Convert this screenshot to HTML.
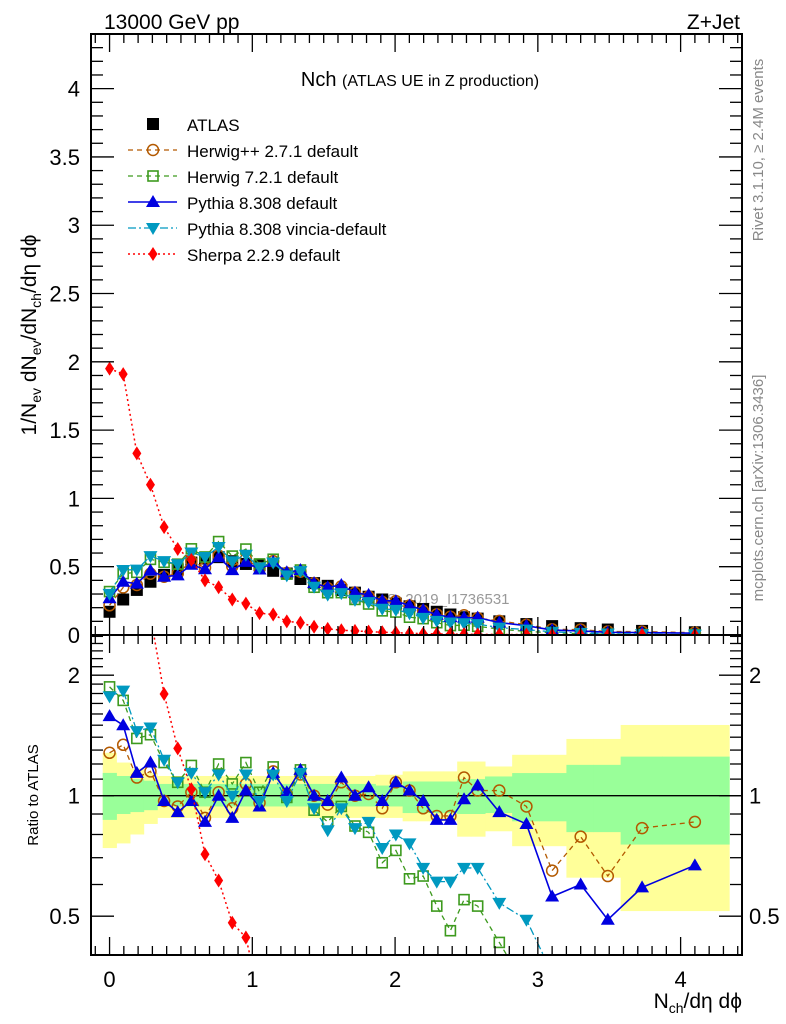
<!DOCTYPE html>
<html><head><meta charset="utf-8"><style>
html,body{margin:0;padding:0;background:#fff;width:786px;height:1024px;overflow:hidden}
svg{display:block;font-family:"Liberation Sans",sans-serif}
</style></head><body>
<div style="position:relative;width:786px;height:1024px;overflow:hidden">
<svg id="c" width="786" height="1024" viewBox="0 0 786 1024" style="position:absolute;left:0;top:0"></svg>
<svg width="786" height="1024" style="position:absolute;left:0;top:0">
<text x="104" y="29" font-size="21">13000 GeV pp</text>
<text x="740" y="29" font-size="21" text-anchor="end">Z+Jet</text>
<text x="420" y="86" font-size="20" text-anchor="middle">Nch <tspan font-size="16">(ATLAS UE in Z production)</tspan></text>
<text transform="translate(36,335) rotate(-90)" font-size="21" text-anchor="middle">1/N<tspan font-size="14" dy="5">ev</tspan><tspan dy="-5"> dN</tspan><tspan font-size="14" dy="5">ev</tspan><tspan dy="-5">/dN</tspan><tspan font-size="14" dy="5">ch</tspan><tspan dy="-5">/dη dϕ</tspan></text>
<text transform="translate(38,795) rotate(-90)" font-size="15" text-anchor="middle">Ratio to ATLAS</text>
<text x="742" y="1008" font-size="21" text-anchor="end">N<tspan font-size="14" dy="5">ch</tspan><tspan dy="-5">/dη dϕ</tspan></text>
<text transform="translate(763,150) rotate(-90)" font-size="15" text-anchor="middle" fill="#888">Rivet 3.1.10, ≥ 2.4M events</text>
<text transform="translate(763,488) rotate(-90)" font-size="15" text-anchor="middle" fill="#888">mcplots.cern.ch [arXiv:1306.3436]</text>
</svg>
</div>
<script>
// ---- data ----
const xCenters=[0,0.0955,0.191,0.2865,0.382,0.4775,0.573,0.6685,0.764,0.8595,0.955,1.0505,1.146,1.2415,1.337,1.4325,1.528,1.6235,1.719,1.8145,1.91,2.0055,2.101,2.1965,2.292,2.3875,2.483,2.5785,2.73,2.92,3.10,3.30,3.49,3.73,4.10];
const xLo=[-0.048,0.048,0.143,0.239,0.334,0.430,0.525,0.621,0.716,0.812,0.907,1.003,1.098,1.194,1.289,1.385,1.480,1.576,1.671,1.767,1.862,1.958,2.053,2.149,2.244,2.340,2.435,2.531,2.63,2.82,3.01,3.20,3.39,3.58,3.87];
const xHi=[0.048,0.143,0.239,0.334,0.430,0.525,0.621,0.716,0.812,0.907,1.003,1.098,1.194,1.289,1.385,1.480,1.576,1.671,1.767,1.862,1.958,2.053,2.149,2.244,2.340,2.435,2.531,2.63,2.82,3.01,3.20,3.39,3.58,3.87,4.34];
const atlas=[0.17,0.26,0.33,0.39,0.44,0.48,0.53,0.56,0.57,0.54,0.52,0.51,0.47,0.45,0.41,0.38,0.36,0.33,0.31,0.28,0.26,0.23,0.21,0.19,0.17,0.15,0.13,0.12,0.10,0.08,0.065,0.05,0.04,0.03,0.02];
const rHerwigpp=[1.28,1.34,1.11,1.15,0.97,0.94,1.02,0.88,1.02,0.93,1.07,0.96,1.15,1.01,1.13,1.0,0.95,1.08,1.0,1.01,0.93,1.08,1.03,0.93,0.89,0.89,1.11,1.03,1.03,0.94,0.65,0.79,0.63,0.83,0.86];
const rHerwig7=[1.87,1.73,1.39,1.42,1.21,1.08,1.19,1.02,1.2,1.07,1.21,1.02,1.18,0.99,1.16,0.92,0.86,0.94,0.84,0.81,0.68,0.73,0.62,0.63,0.53,0.46,0.55,0.53,0.43,0.33,0.25,0.2,0.15,0.12,0.1];
const rPythia=[1.58,1.50,1.14,1.21,0.97,0.91,0.97,0.86,1.0,0.88,1.03,0.94,1.14,1.02,1.16,1.0,0.97,1.11,1.0,1.05,0.97,1.08,1.03,0.97,0.87,0.87,0.98,1.06,0.91,0.85,0.56,0.60,0.49,0.59,0.67];
const rVincia=[1.77,1.83,1.45,1.48,1.23,1.08,1.14,1.02,1.13,1.0,1.13,0.97,1.13,0.97,1.14,0.93,0.82,0.93,0.83,0.86,0.74,0.80,0.76,0.66,0.61,0.61,0.66,0.66,0.54,0.49,0.36,0.3,0.25,0.2,0.15];
const sherpa=[1.95,1.91,1.33,1.10,0.79,0.63,0.55,0.40,0.35,0.26,0.23,0.16,0.15,0.10,0.09,0.06,0.045,0.035,0.03,0.025,0.02,0.017,0.013,0.01,0.008,0.007,0.006,0.005,0.004,0.003,0.002,0.002,0.001,0.001,0.001];
const greenHi=[1.14,1.12,1.10,1.09,1.07,1.07,1.07,1.07,1.07,1.07,1.07,1.07,1.07,1.07,1.07,1.07,1.07,1.07,1.07,1.07,1.06,1.06,1.085,1.085,1.085,1.085,1.10,1.10,1.117,1.139,1.139,1.194,1.194,1.252,1.252];
const greenLo=[0.87,0.90,0.91,0.92,0.94,0.94,0.94,0.94,0.94,0.94,0.94,0.94,0.94,0.94,0.94,0.94,0.94,0.94,0.94,0.94,0.94,0.94,0.905,0.905,0.905,0.905,0.90,0.90,0.905,0.863,0.863,0.811,0.811,0.755,0.755];
const yellowHi=[1.28,1.21,1.17,1.14,1.12,1.12,1.12,1.12,1.12,1.12,1.12,1.12,1.12,1.12,1.12,1.12,1.12,1.12,1.12,1.12,1.128,1.128,1.15,1.15,1.15,1.15,1.217,1.217,1.183,1.265,1.265,1.386,1.386,1.502,1.502];
const yellowLo=[0.74,0.76,0.80,0.85,0.88,0.88,0.88,0.88,0.88,0.88,0.88,0.88,0.88,0.88,0.88,0.88,0.88,0.88,0.88,0.88,0.88,0.88,0.863,0.863,0.863,0.863,0.79,0.79,0.815,0.748,0.748,0.624,0.624,0.515,0.515];
const xTicks=[0,1,2,3,4];
const yTicks=[0,0.5,1,1.5,2,2.5,3,3.5,4];
const yTickLabels=["0","0.5","1","1.5","2","2.5","3","3.5","4"];
const rTicks=[0.5,1,2];
const rTickLabels=["0.5","1","2"];

// ---- geometry ----
const L=91,R=742,T=34,M=635,B=955;
const XMIN=-0.13,XMAX=4.43,YMAX=4.40,RMIN=0.40,RMAX=2.52;
const sx=v=>L+(v-XMIN)/(XMAX-XMIN)*(R-L);
const sy=v=>M-v/YMAX*(M-T);
const sr=v=>B-(Math.log(v)-Math.log(RMIN))/(Math.log(RMAX)-Math.log(RMIN))*(B-M);
const svg=document.getElementById('c');
const NS='http://www.w3.org/2000/svg';
function mk(tag,attrs,parent){const e=document.createElementNS(NS,tag);for(const k in attrs)e.setAttribute(k,attrs[k]);(parent||svg).appendChild(e);return e;}
function txt(s,x,y,size,anchor,fill,parent){const t=mk('text',{x:x,y:y,'font-size':size,'text-anchor':anchor||'start',fill:fill||'#000'},parent);t.textContent=s;return t;}

const defs=mk('defs',{});
const c1=mk('clipPath',{id:'cm'},defs);mk('rect',{x:L,y:T,width:R-L,height:M-T},c1);
const c2=mk('clipPath',{id:'cr'},defs);mk('rect',{x:L,y:M,width:R-L,height:B-M},c2);

const gBand=mk('g',{'clip-path':'url(#cr)'});


for(let i=0;i<xCenters.length;i++){
  const y=mk('rect',{x:sx(xLo[i]),y:sr(yellowHi[i]),width:sx(xHi[i])-sx(xLo[i])+0.5,height:sr(yellowLo[i])-sr(yellowHi[i]),fill:'#ffff99'},gBand);
  
  
}
for(let i=0;i<xCenters.length;i++){
  const g=mk('rect',{x:sx(xLo[i]),y:sr(greenHi[i]),width:sx(xHi[i])-sx(xLo[i])+0.5,height:sr(greenLo[i])-sr(greenHi[i]),fill:'#99ff99'},gBand);
  
  
}
mk('line',{x1:L,x2:R,y1:sr(1),y2:sr(1),stroke:'#000','stroke-width':1.3});

const wm=txt('ATLAS_2019_I1736531',430,604,15,'middle','#999');



function marker(type,x,y,col,g){
  const s=6;
  if(type==='sq')return mk('rect',{x:x-s,y:y-s,width:2*s,height:2*s,fill:col},g);
  if(type==='osq')return mk('rect',{x:x-s+1,y:y-s+1,width:2*s-2,height:2*s-2,fill:'none',stroke:col,'stroke-width':1.6},g);
  if(type==='oc')return mk('circle',{cx:x,cy:y,r:5.5,fill:'none',stroke:col,'stroke-width':1.5},g);
  if(type==='tu')return mk('polygon',{points:`${x},${y-7} ${x-7},${y+5} ${x+7},${y+5}`,fill:col},g);
  if(type==='td')return mk('polygon',{points:`${x},${y+7} ${x-7},${y-5} ${x+7},${y-5}`,fill:col},g);
  if(type==='di')return mk('polygon',{points:`${x},${y-7} ${x-4.5},${y} ${x},${y+7} ${x+4.5},${y}`,fill:col},g);
}
const series=[
 {name:'herwigpp',col:'#b35900',m:'oc',dash:'5,4',w:1.3,ratio:rHerwigpp},
 {name:'herwig7',col:'#3d9a1e',m:'osq',dash:'5,4',w:1.3,ratio:rHerwig7},
 {name:'pythia',col:'#0000e0',m:'tu',dash:'',w:1.6,ratio:rPythia},
 {name:'vincia',col:'#0099c0',m:'td',dash:'8,3,2,3',w:1.3,ratio:rVincia},
 {name:'sherpa',col:'#ff0000',m:'di',dash:'2,3',w:1.5,ratio:null,main:sherpa}
];
function drawSeries(s,panel){
  const g=mk('g',{'clip-path':panel==='main'?'url(#cm)':'url(#cr)'});
  
  
  const vals=xCenters.map((x,i)=>{
    const main=s.main?s.main[i]:s.ratio[i]*atlas[i];
    return panel==='main'?main:main/atlas[i];
  });
  const fy=panel==='main'?(v=>sy(v)):(v=>sr(Math.max(v,0.05)));
  const pts=vals.map((v,i)=>sx(xCenters[i])+','+fy(v));
  const pl=mk('polyline',{points:pts.join(' '),fill:'none',stroke:s.col,'stroke-width':s.w,'stroke-dasharray':s.dash},g);
  
  
  vals.forEach((v,i)=>{
    const p=marker(s.m,sx(xCenters[i]),fy(v),s.col,g);
    
    
  });
}
const ga=mk('g',{'clip-path':'url(#cm)'});


atlas.forEach((v,i)=>{
  const p=marker('sq',sx(xCenters[i]),sy(v),'#000',ga);
  
  
});
series.forEach(s=>{drawSeries(s,'main');drawSeries(s,'ratio');});

mk('rect',{x:L,y:T,width:R-L,height:M-T,fill:'none',stroke:'#000','stroke-width':2});
mk('rect',{x:L,y:M,width:R-L,height:B-M,fill:'none',stroke:'#000','stroke-width':2});

for(let v=-0.1;v<=4.41;v+=0.1){
  const vv=Math.round(v*10)/10;const major=Math.abs(vv-Math.round(vv))<1e-6;
  const x=sx(vv),len=major?18:9;
  [[T,1],[M,-1],[M,1],[B,-1]].forEach(([y0,d])=>mk('line',{x1:x,x2:x,y1:y0,y2:y0+d*len,stroke:'#000','stroke-width':1.3}));
}
xTicks.forEach(v=>{const t=txt(String(v),sx(v),987,22,'middle');});
for(let v=0;v<=4.4;v+=0.1){
  const vv=Math.round(v*10)/10;const major=Math.abs(vv*2-Math.round(vv*2))<1e-6;
  const len=major?23:12,y=sy(vv);
  mk('line',{x1:L,x2:L+len,y1:y,y2:y,stroke:'#000','stroke-width':1.3});
  mk('line',{x1:R,x2:R-len,y1:y,y2:y,stroke:'#000','stroke-width':1.3});
}
yTicks.forEach((v,i)=>{const t=txt(yTickLabels[i],80,sy(v)+8,22,'end');});
[0.4,0.5,0.6,0.7,0.8,0.9,1,1.1,1.2,1.3,1.4,1.5,1.6,1.7,1.8,1.9,2,2.1,2.2,2.3,2.4,2.5].forEach(v=>{
  const major=(v===0.5||v===1||v===2);const len=major?23:12,y=sr(v);
  mk('line',{x1:L,x2:L+len,y1:y,y2:y,stroke:'#000','stroke-width':1.3});
  mk('line',{x1:R,x2:R-len,y1:y,y2:y,stroke:'#000','stroke-width':1.3});
});
rTicks.forEach((v,i)=>{
  const a=txt(rTickLabels[i],80,sr(v)+8,22,'end');
  const b=txt(rTickLabels[i],749,sr(v)+8,22,'start');
});

const leg=[['ATLAS','#000','sq',null,1],['Herwig++ 2.7.1 default','#b35900','oc','5,4',1.3],['Herwig 7.2.1 default','#3d9a1e','osq','5,4',1.3],['Pythia 8.308 default','#0000e0','tu','',1.6],['Pythia 8.308 vincia-default','#0099c0','td','8,3,2,3',1.3],['Sherpa 2.2.9 default','#ff0000','di','2,3',1.5]];
leg.forEach((e,i)=>{
  const y=124+i*26;
  const g=mk('g',{});
  
  
  if(e[3]!==null)mk('line',{x1:128,x2:177,y1:y,y2:y,stroke:e[1],'stroke-width':e[4],'stroke-dasharray':e[3]},g);
  marker(e[2],153,y,e[1],g);
  txt(e[0],187,y+7,17,'start','#000',g);
});
</script>
</body></html>
